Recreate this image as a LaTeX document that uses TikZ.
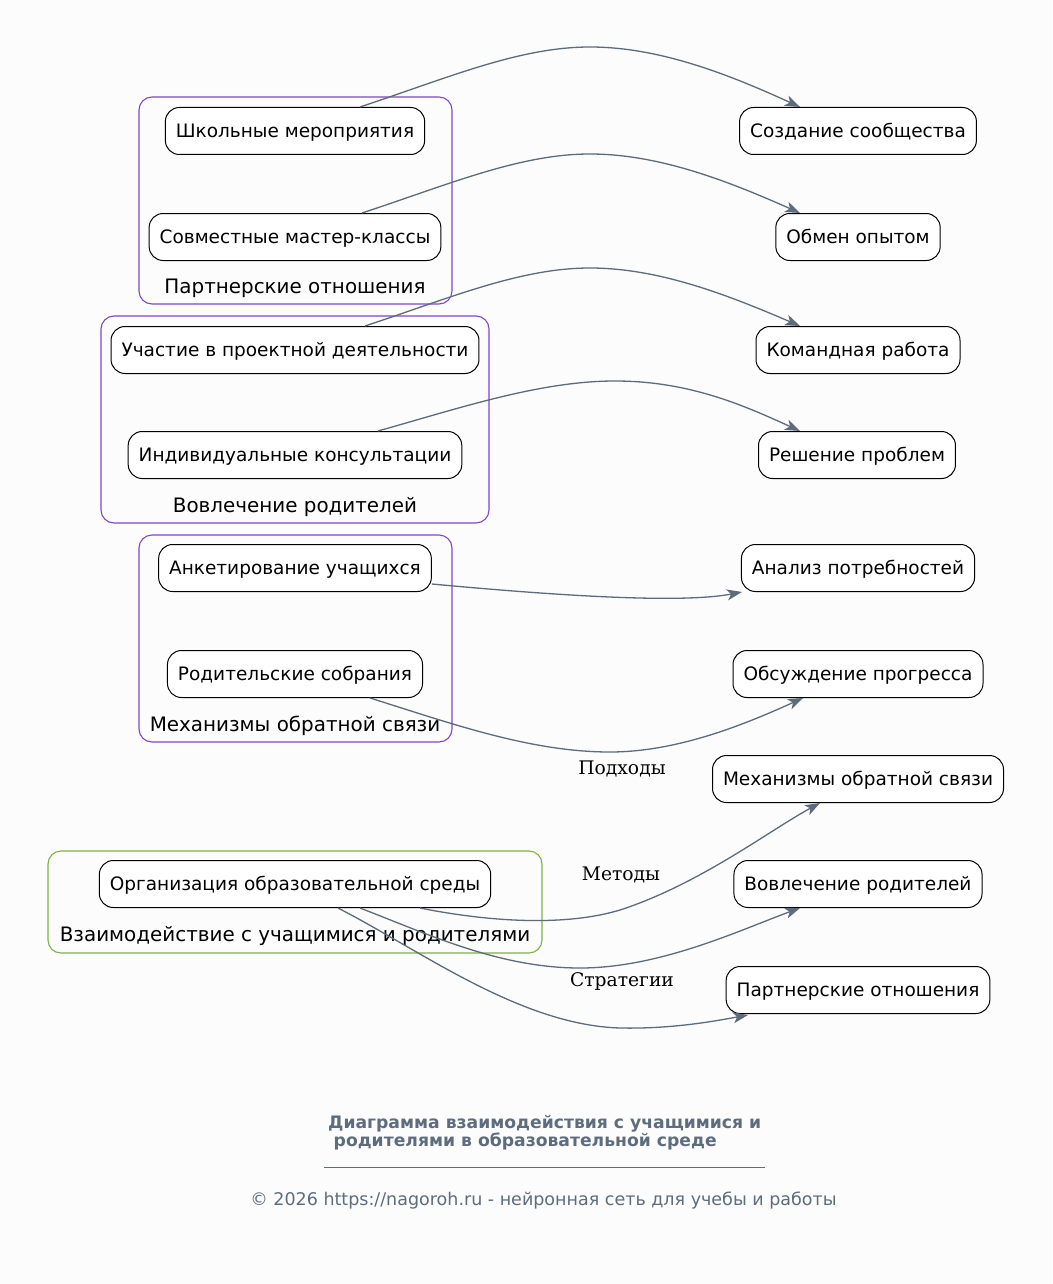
\documentclass[tikz,border=0pt]{standalone}
\usepackage{fontspec}
\setmainfont{DejaVu Sans}
\newfontfamily\lblfont{DejaVu Serif}
\usetikzlibrary{arrows.meta,calc}
\definecolor{bgcol}{HTML}{FCFCFC}
\definecolor{edgecol}{HTML}{5D6B7A}
\definecolor{titlecol}{HTML}{5D6D7E}
\definecolor{clpurple}{HTML}{7E48CC}
\definecolor{clgreen}{HTML}{7CB342}
\tikzset{
  box/.style={draw=black, line width=1pt, rounded corners=14pt, fill=white,
    minimum height=47pt, inner xsep=10.5pt, inner ysep=0pt,
    text height=13.4pt, text depth=0pt,
    font=\fontsize{18.5}{22}\selectfont},
  cluster/.style={draw=#1, line width=1.1pt, rounded corners=13pt, inner sep=0pt},
  cllabel/.style={inner sep=0pt, text height=14.5pt, text depth=0pt,
    font=\fontsize{19.9}{23}\selectfont},
  conn/.style={draw=edgecol, line width=1.3pt,
    -{Stealth[length=15pt,width=11pt,inset=4pt]}},
  elabel/.style={inner sep=0pt, text height=12.5pt, text depth=0pt,
    font=\lblfont\fontsize{18.7}{22}\selectfont},
  ttl/.style={inner sep=0pt, anchor=base west, text=titlecol,
    font=\bfseries\fontsize{17.2}{18}\selectfont},
}
\begin{document}
\begin{tikzpicture}[x=1pt,y=-1pt]
\useasboundingbox (0,0) rectangle (1052,1284);
\fill[bgcol] (0,0) rectangle (1052,1284);

% clusters
\node[cluster=clpurple, minimum width=313pt, minimum height=207pt] (cl1) at (295.5,200.5) {};
\node[cllabel] (cl1l) at (295,286) {Партнерские отношения};
\node[cluster=clpurple, minimum width=388pt, minimum height=207pt] (cl2) at (295,419.5) {};
\node[cllabel] (cl2l) at (295,505) {Вовлечение родителей};
\node[cluster=clpurple, minimum width=313pt, minimum height=207pt] (cl3) at (295.5,638.5) {};
\node[cllabel] (cl3l) at (295,724) {Механизмы обратной связи};
\node[cluster=clgreen, minimum width=494pt, minimum height=102pt] (cl4) at (295,902) {};
\node[cllabel] (cl4l) at (295,934) {Взаимодействие с учащимися и родителями};

% left nodes
\node[box] (a1) at (295,131) {Школьные мероприятия};
\node[box] (a2) at (295,237) {Совместные мастер-классы};
\node[box] (b1) at (295,350) {Участие в проектной деятельности};
\node[box] (b2) at (295,455) {Индивидуальные консультации};
\node[box] (c1) at (295,568) {Анкетирование учащихся};
\node[box] (c2) at (295,674) {Родительские собрания};
\node[box] (org) at (295,884) {Организация образовательной среды};

% right nodes
\node[box] (r1) at (858,131) {Создание сообщества};
\node[box] (r2) at (858,237) {Обмен опытом};
\node[box] (r3) at (858,350) {Командная работа};
\node[box] (r4) at (857,455) {Решение проблем};
\node[box] (r5) at (858,568) {Анализ потребностей};
\node[box] (r6) at (858,674) {Обсуждение прогресса};
\node[box] (r7) at (858,779) {Механизмы обратной связи};
\node[box] (r8) at (858,884) {Вовлечение родителей};
\node[box] (r9) at (858,990) {Партнерские отношения};

% connectors
\draw[conn] ($(a1.north)+(65,0)$) .. controls (450,77) and (520,47) .. (590,47)
  .. controls (660,47) and (730,75) .. ($(r1.north)+(-58,0)$);
\draw[conn] ($(a2.north)+(67,0)$) .. controls (450,184) and (520,154) .. (590,154)
  .. controls (660,154) and (730,182) .. ($(r2.north)+(-58,0)$);
\draw[conn] ($(b1.north)+(70,0)$) .. controls (450,298) and (520,268) .. (590,268)
  .. controls (660,268) and (730,296) .. ($(r3.north)+(-58,0)$);
\draw[conn] ($(b2.north)+(83,0)$) .. controls (460,408) and (540,381) .. (615,381)
  .. controls (690,381) and (745,406) .. ($(r4.north)+(-57,0)$);
\draw[conn] ($(c1.east)+(0,16)$) .. controls (550,595) and (680,604) .. ($(r5.south west)+(1,0)$);
\draw[conn] ($(c2.south)+(75,0)$) .. controls (450,723) and (530,752) .. (610,752)
  .. controls (680,752) and (750,722) .. ($(r6.south)+(-55,0)$);
\draw[conn] ($(org.south)+(125,0)$) .. controls (480,920) and (560,928) .. (620,910)
  .. controls (700,884) and (770,830) .. ($(r7.south)+(-38,0)$);
\draw[conn] ($(org.south)+(65,0)$) .. controls (430,935) and (500,968) .. (580,968)
  .. controls (660,968) and (740,930) .. ($(r8.south)+(-58,0)$);
\draw[conn] ($(org.south)+(43,0)$) .. controls (420,950) and (520,1025) .. (620,1028)
  .. controls (670,1029) and (710,1022) .. ($(r9.south)+(-110,1)$);

% connector labels
\node[elabel] (l1) at (622,768) {Подходы};
\node[elabel] (l2) at (621,874) {Методы};
\node[elabel] (l3) at (622,980) {Стратегии};

% title and footer
\node[ttl] (title1) at (328,1128.3) {Диаграмма взаимодействия с учащимися и};
\node[ttl] (title2) at (328,1146.5) {\hspace*{5.5pt}родителями в образовательной среде};
\coordinate (sepL) at (324,1167);
\coordinate (sepR) at (765,1167);
\draw[titlecol, line width=0.8pt] (sepL) -- (sepR);
\node[inner sep=0pt, anchor=base, text=titlecol, font=\fontsize{17.5}{20}\selectfont] (foot) at (543.5,1205)
  {© 2026 https://nagoroh.ru - нейронная сеть для учебы и работы};
\end{tikzpicture}
\end{document}
